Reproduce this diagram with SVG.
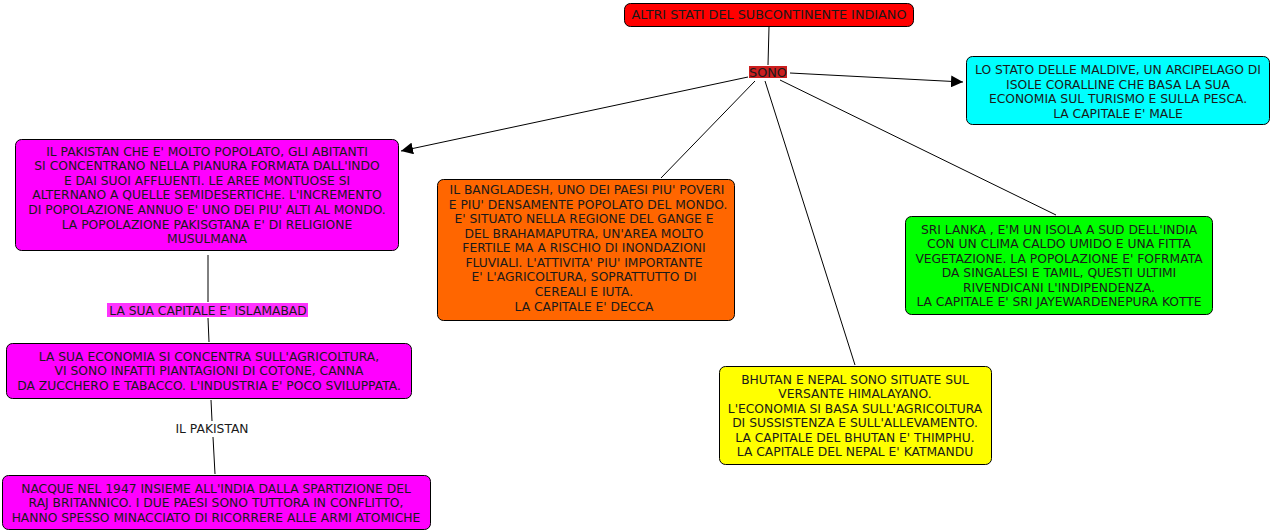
<svg xmlns="http://www.w3.org/2000/svg" width="1274" height="532" viewBox="0 0 1274 532">
<style>
.box{stroke:#000;stroke-width:1}
text{font-family:"DejaVu Sans",Verdana,sans-serif;font-size:12.3px;fill:#1a1a1a;text-anchor:middle}
.big{font-size:12.8px}
.c{stroke:#000;stroke-width:1;fill:none}
</style>
<defs>
<marker id="arr" viewBox="0 0 10 10" refX="10" refY="5" markerWidth="12" markerHeight="12" markerUnits="userSpaceOnUse" orient="auto">
<path d="M0,0 L10,5 L0,10 z" fill="#000"/>
</marker>
</defs>
<rect width="1274" height="532" fill="#fff"/>
<g id="connectors">
<line class="c" x1="769" y1="27" x2="768" y2="65"/>
<line class="c" x1="790" y1="73" x2="963" y2="82" marker-end="url(#arr)"/>
<line class="c" x1="748" y1="77" x2="401" y2="151" marker-end="url(#arr)"/>
<line class="c" x1="755" y1="81" x2="661" y2="178"/>
<line class="c" x1="765" y1="81" x2="855" y2="365"/>
<line class="c" x1="780" y1="80" x2="1056" y2="215"/>
<line class="c" x1="208" y1="255" x2="208" y2="302"/>
<line class="c" x1="208" y1="318" x2="209" y2="342"/>
<line class="c" x1="211" y1="400" x2="212" y2="421"/>
<line class="c" x1="213" y1="437" x2="215" y2="474"/>
</g>
<g id="top">
<rect class="box" x="624.5" y="3.5" width="289" height="23" rx="6" fill="#ff0000"/>
<text class="big" x="769" y="19">ALTRI STATI DEL SUBCONTINENTE INDIANO</text>
</g>
<g id="sono">
<rect x="749" y="66" width="38" height="12" fill="#cc1f1f"/>
<text class="big" x="768" y="76.5">SONO</text>
</g>
<g id="maldive">
<rect class="box" x="966.5" y="56.5" width="303" height="68" rx="6" fill="#00ffff"/>
<text x="1118" y="74">LO STATO DELLE MALDIVE, UN ARCIPELAGO DI</text>
<text x="1118" y="89">ISOLE CORALLINE CHE BASA LA SUA</text>
<text x="1118" y="103">ECONOMIA SUL TURISMO E SULLA PESCA.</text>
<text x="1118" y="118">LA CAPITALE E' MALE</text>
</g>
<g id="pakistan">
<rect class="box" x="15.5" y="139.5" width="383" height="111" rx="6" fill="#ff00ff"/>
<text x="207" y="156">IL PAKISTAN CHE E' MOLTO POPOLATO, GLI ABITANTI</text>
<text x="207" y="170">SI CONCENTRANO NELLA PIANURA FORMATA DALL'INDO</text>
<text x="207" y="185">E DAI SUOI AFFLUENTI. LE AREE MONTUOSE SI</text>
<text x="207" y="199">ALTERNANO A QUELLE SEMIDESERTICHE. L'INCREMENTO</text>
<text x="207" y="214">DI POPOLAZIONE ANNUO E' UNO DEI PIU' ALTI AL MONDO.</text>
<text x="207" y="229">LA POPOLAZIONE PAKISGTANA E' DI RELIGIONE</text>
<text x="207" y="243">MUSULMANA</text>
</g>
<g id="bangladesh">
<rect class="box" x="437.5" y="179.5" width="297" height="141" rx="6" fill="#ff6600"/>
<text x="587" y="194">IL BANGLADESH, UNO DEI PAESI PIU' POVERI</text>
<text x="588" y="209">E PIU' DENSAMENTE POPOLATO DEL MONDO.</text>
<text x="584" y="223">E' SITUATO NELLA REGIONE DEL GANGE E</text>
<text x="584" y="238">DEL BRAHAMAPUTRA, UN'AREA MOLTO</text>
<text x="584" y="252">FERTILE MA A RISCHIO DI INONDAZIONI</text>
<text x="584" y="267">FLUVIALI. L'ATTIVITA' PIU' IMPORTANTE</text>
<text x="584" y="281">E' L'AGRICOLTURA, SOPRATTUTTO DI</text>
<text x="584" y="296">CEREALI E IUTA.</text>
<text x="584" y="311">LA CAPITALE E' DECCA</text>
</g>
<g id="srilanka">
<rect class="box" x="905.5" y="216.5" width="307" height="98" rx="6" fill="#00ff00"/>
<text x="1059" y="234">SRI LANKA , E'M UN ISOLA A SUD DELL'INDIA</text>
<text x="1059" y="248">CON UN CLIMA CALDO UMIDO E UNA FITTA</text>
<text x="1059" y="263">VEGETAZIONE. LA POPOLAZIONE E' FOFRMATA</text>
<text x="1059" y="277">DA SINGALESI E TAMIL, QUESTI ULTIMI</text>
<text x="1059" y="292">RIVENDICANI L'INDIPENDENZA.</text>
<text x="1059" y="306">LA CAPITALE E' SRI JAYEWARDENEPURA KOTTE</text>
</g>
<g id="bhutan">
<rect class="box" x="719.5" y="366.5" width="272" height="98" rx="6" fill="#ffff00"/>
<text x="855" y="384">BHUTAN E NEPAL SONO SITUATE SUL</text>
<text x="855" y="398">VERSANTE HIMALAYANO.</text>
<text x="855" y="413">L'ECONOMIA SI BASA SULL'AGRICOLTURA</text>
<text x="855" y="427">DI SUSSISTENZA E SULL'ALLEVAMENTO.</text>
<text x="855" y="442">LA CAPITALE DEL BHUTAN E' THIMPHU.</text>
<text x="855" y="456">LA CAPITALE DEL NEPAL E' KATMANDU</text>
</g>
<g id="capitale">
<rect x="107" y="303" width="201" height="14" fill="#ff33ff"/>
<text x="208" y="314.5">LA SUA CAPITALE E' ISLAMABAD</text>
</g>
<g id="economia">
<rect class="box" x="6.5" y="343.5" width="405" height="55" rx="6" fill="#ff00ff"/>
<text x="209" y="361">LA SUA ECONOMIA SI CONCENTRA SULL'AGRICOLTURA,</text>
<text x="209" y="375">VI SONO INFATTI PIANTAGIONI DI COTONE, CANNA</text>
<text x="209" y="390">DA ZUCCHERO E TABACCO. L'INDUSTRIA E' POCO SVILUPPATA.</text>
</g>
<g id="ilpakistan">
<text x="212" y="433">IL PAKISTAN</text>
</g>
<g id="nacque">
<rect class="box" x="2.5" y="475.5" width="428" height="54" rx="6" fill="#ff00ff"/>
<text x="216" y="493">NACQUE NEL 1947 INSIEME ALL'INDIA DALLA SPARTIZIONE DEL</text>
<text x="216" y="507">RAJ BRITANNICO. I DUE PAESI SONO TUTTORA IN CONFLITTO,</text>
<text x="216" y="522">HANNO SPESSO MINACCIATO DI RICORRERE ALLE ARMI ATOMICHE</text>
</g>
</svg>
